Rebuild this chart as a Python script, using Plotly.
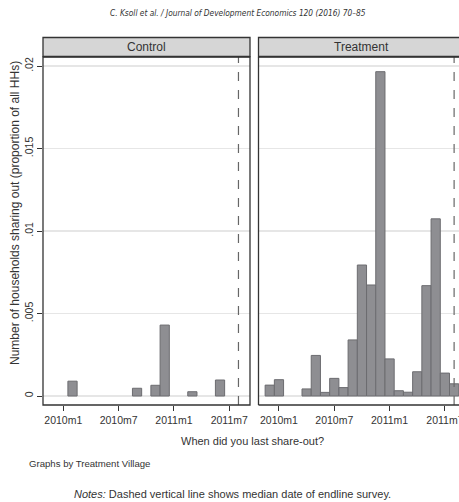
import plotly.graph_objects as go

# Data (months relative to 2010m1 = 0)
tick_vals = [0, 6, 12, 18]
tick_text = ["2010m1", "2010m7", "2011m1", "2011m7"]
y_tick_vals = [0, 0.005, 0.01, 0.015, 0.02]
y_tick_text = ["0", ".005", ".01", ".015", ".02"]

control_months = [1, 8, 10, 11, 14, 17]
control_props = [0.0009, 0.00047, 0.00065, 0.0043, 0.00026, 0.00097]

treat_months = [-1, 0, 3, 4, 5, 6, 7, 8, 9, 10, 11, 12, 13, 14, 15, 16, 17, 18, 19]
treat_props = [0.00066, 0.00099, 0.00043, 0.00246, 0.00022, 0.00107, 0.00051,
               0.0034, 0.00794, 0.00673, 0.01966, 0.00225, 0.00032, 0.00023,
               0.00147, 0.00669, 0.01074, 0.00139, 0.00074]

median_endline = 19
panel_titles = ["Control", "Treatment"]

W, H = 459, 502
FONT = "Liberation Sans, Arial, sans-serif"
BAR_FILL = "#8e8e92"
BAR_LINE = "#6c6c70"
AX = "#333333"

def px(x):
    return x / W

def py(y):
    return 1 - y / H

x_dom1 = [px(43), px(250)]
x_dom2 = [px(258.5), 1.0]
y_dom = [py(405), py(57)]

x_range1 = [-2.2, 20.25]
x_range2 = [-2.22, 19.53]
y_range = [-0.000545, 0.02055]

fig = go.Figure()
fig.add_trace(go.Bar(x=control_months, y=control_props, width=1,
                     marker=dict(color=BAR_FILL, line=dict(color=BAR_LINE, width=1)),
                     xaxis="x", yaxis="y", showlegend=False, hoverinfo="skip"))
fig.add_trace(go.Bar(x=treat_months, y=treat_props, width=1,
                     marker=dict(color=BAR_FILL, line=dict(color=BAR_LINE, width=1)),
                     xaxis="x2", yaxis="y2", showlegend=False, hoverinfo="skip"))

xcommon = dict(tickvals=tick_vals, ticktext=tick_text, ticks="outside", ticklen=5,
               tickcolor=AX, showgrid=False, zeroline=False, showline=False,
               ticklabeloverflow="allow", automargin=False,
               tickfont=dict(family=FONT, size=10.5, color="#333"))
ycommon = dict(range=y_range, showgrid=True, gridcolor="#e6e6e6", gridwidth=1.5,
               tickvals=y_tick_vals, zeroline=False, showline=False, automargin=False)

fig.update_layout(
    width=W, height=H, margin=dict(l=0, r=0, t=0, b=0, autoexpand=False),
    paper_bgcolor="white", plot_bgcolor="white", bargap=0,
    xaxis=dict(domain=x_dom1, range=x_range1, anchor="y", **xcommon),
    xaxis2=dict(domain=x_dom2, range=x_range2, anchor="y2", **xcommon),
    yaxis=dict(domain=y_dom, anchor="x", ticktext=y_tick_text, ticks="outside",
               ticklen=5, tickcolor=AX, tickangle=-90,
               tickfont=dict(family=FONT, size=10.5, color="#333"), **ycommon),
    yaxis2=dict(domain=y_dom, anchor="x2", showticklabels=False, ticks="", **ycommon),
)

shapes = []
for xr in ["x", "x2"]:
    shapes.append(dict(type="line", xref=xr, yref="paper", x0=median_endline, x1=median_endline,
                       y0=y_dom[0], y1=y_dom[1], line=dict(color="#666", width=1.2, dash="dash")))
shapes.append(dict(type="rect", xref="paper", yref="paper", x0=x_dom1[0], x1=x_dom1[1],
                   y0=y_dom[0], y1=y_dom[1], line=dict(color=AX, width=1.3)))
for (a, b, c, d) in [(x_dom2[0], x_dom2[0], y_dom[0], y_dom[1]),
                     (x_dom2[0], 1.0, y_dom[0], y_dom[0]),
                     (x_dom2[0], 1.0, y_dom[1], y_dom[1])]:
    shapes.append(dict(type="line", xref="paper", yref="paper", x0=a, x1=b, y0=c, y1=d,
                       line=dict(color=AX, width=1.3)))
strip_y = [py(56.5), py(37.5)]
shapes.append(dict(type="rect", xref="paper", yref="paper", x0=x_dom1[0], x1=x_dom1[1],
                   y0=strip_y[0], y1=strip_y[1], fillcolor="#d6d6d6",
                   line=dict(color=AX, width=1.3)))
shapes.append(dict(type="rect", xref="paper", yref="paper", x0=x_dom2[0], x1=1.01,
                   y0=strip_y[0], y1=strip_y[1], fillcolor="#d6d6d6",
                   line=dict(color=AX, width=1.3)))
fig.update_layout(shapes=shapes)

def note(x, y, text, size, fam=FONT, xanchor="center", angle=0):
    return dict(x=px(x), y=py(y), xref="paper", yref="paper", text=text, showarrow=False,
                xanchor=xanchor, yanchor="middle", textangle=angle,
                font=dict(family=fam, size=size, color="#333"))

strip_mid = (37.5 + 56.5) / 2
ann = [
    note(146.5, strip_mid, panel_titles[0], 12),
    note(361.5, strip_mid, panel_titles[1], 12),
    note(237.5, 13, "<i>C. Ksoll et al. / Journal of Development Economics 120 (2016) 70–85</i>",
         8.3, fam="Liberation Sans Narrow, DejaVu Sans Condensed, " + FONT),
    note(15, 213, "Number of households sharing out (proportion of all HHs)", 12, angle=-90),
    note(253, 441, "When did you last share-out?", 11),
    note(27, 463, "Graphs by Treatment Village", 9.6, xanchor="left"),
    note(232, 494, "<i>Notes:</i> Dashed vertical line shows median date of endline survey.", 11),
]
fig.update_layout(annotations=ann)

fig.write_html(
    "out.html",
    config={"displayModeBar": False, "staticPlot": True},
    post_script="document.documentElement.style.margin='0';"
                "document.documentElement.style.overflow='hidden';"
                "document.body.style.margin='0';document.body.style.overflow='hidden';",
)
